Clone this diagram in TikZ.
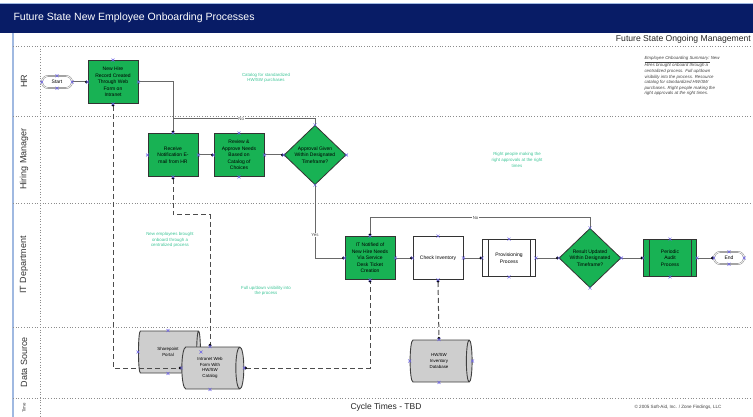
\documentclass[tikz,border=0pt]{standalone}
\usepackage{fontspec}
\setmainfont{Liberation Sans}
\usetikzlibrary{shapes.geometric,shapes.misc,arrows.meta}

\definecolor{barnavy}{RGB}{8,28,102}
\definecolor{procgreen}{RGB}{24,178,84}
\definecolor{storegray}{RGB}{206,206,206}
\definecolor{flowgray}{RGB}{105,105,105}
\definecolor{notegreen}{RGB}{60,196,150}
\definecolor{cpblue}{RGB}{110,100,230}
\definecolor{edgeblue}{RGB}{160,185,225}

\newcommand{\boxfont}{\fontsize{5}{6.6}\selectfont}
\newcommand{\notefont}{\fontsize{4.4}{5.6}\selectfont}
\newcommand{\lanefont}{\fontsize{9}{10}\selectfont}

% small connection point crosses round a shape
\newcommand{\cpmarks}[1]{%
  \foreach \a in {north,south,east,west}
    {\draw[cpmark] ([shift={(-1.5,-1.5)}]#1.\a) -- ++(3,3)
                   ([shift={(-1.5,1.5)}]#1.\a) -- ++(3,-3);}}

\tikzset{
  procbox/.style={rectangle, draw=black!80, line width=0.8pt, fill=procgreen,
    minimum width=50, minimum height=43, align=center, inner sep=1pt, font=\boxfont},
  predef/.style={procbox, minimum width=53, minimum height=37},
  decide/.style={diamond, draw=black!80, line width=0.8pt, fill=procgreen,
    minimum width=62, minimum height=46, inner sep=0.5pt, align=center, font=\boxfont},
  term/.style={rounded rectangle, draw=black!55, double=white, double distance=0.8pt,
    minimum width=32, minimum height=12, inner sep=1pt, font=\boxfont},
  store/.style={cylinder, draw=black!75, line width=0.9pt, fill=storegray, aspect=0.35,
    minimum width=42, minimum height=62, align=center, inner sep=1pt, font=\notefont},
  flow/.style={draw=flowgray, line width=1pt, -{Circle[black,length=2.6pt]}},
  flowplain/.style={draw=flowgray, line width=1pt},
  datalink/.style={draw=black!70, line width=1pt, dash pattern=on 5pt off 3pt,
    {Circle[black,length=2.6pt]}-{Circle[black,length=2.6pt]}},
  lanesep/.style={draw=black!45, line width=0.7pt, dotted},
  lanelbl/.style={rotate=90, font=\lanefont, text=black!80},
  note/.style={align=center, font=\notefont, text=notegreen},
  lbl/.style={fill=white, inner sep=0.6pt, font=\notefont, text=black!70},
  cpmark/.style={draw=cpblue, line width=0.5pt}
}

\begin{document}
\begin{tikzpicture}[x=1pt,y=-1pt]
  \useasboundingbox (0,0) rectangle (753,417);

  % title bar
  \fill[barnavy] (0,4) rectangle (753,33);
  \draw[edgeblue, line width=1pt] (0,4) -- (753,4);
  \node[anchor=west, text=white, font=\fontsize{10.5}{12}\selectfont] (title) at (10,18)
    {Future State New Employee Onboarding Processes};
  \node[anchor=east, inner sep=1pt, text=black!85, font=\fontsize{8.6}{10}\selectfont] (subtitle) at (752,39)
    {Future State Ongoing Management};

  % lanes
  \draw[edgeblue, line width=1.5pt] (13,33) -- (13,417);
  \foreach \y in {46,116,203,327,398}
    \draw[lanesep] (13,\y) -- (753,\y);
  \draw[lanesep] (40,46) -- (40,417);
  \node[lanelbl] (hrlane) at (24,81) {HR};
  \node[lanelbl] (hmlane) at (24,159) {Hiring Manager};
  \node[lanelbl] (itlane) at (24,265) {IT Department};
  \node[lanelbl] (dslane) at (24,362) {Data Source};
  \node[lanelbl, font=\notefont] (timelane) at (24,408) {Time};

  % process shapes
  \node[term] (start) at (57,82) {Start};
  \node[procbox] (hrform) at (113,82) {New Hire\\Record Created\\Through Web\\Form on\\Intranet};
  \node[procbox] (notify) at (173,155) {Receive\\Notification E-\\mail from HR};
  \node[procbox] (review) at (239,155) {Review \&\\Approve Needs\\Based on\\Catalog of\\Choices};
  \node[decide] (approve) at (315,155) {Approval Given\\Within Designated\\Timeframe?};
  \node[procbox] (ticket) at (370,258) {IT Notified of\\New Hire Needs\\Via Service\\Desk Ticket\\Creation};
  \node[procbox, fill=white] (check) at (438,258) {Check Inventory};
  \node[predef, fill=white] (provision) at (509,258) {Provisioning\\Process};
  \node[decide] (result) at (590,258) {Result Updated\\Within Designated\\Timeframe?};
  \node[predef] (audit) at (670,258) {Periodic\\Audit\\Process};
  \node[term] (end) at (729,258) {End};
  \foreach \n in {provision,audit}
    \draw[black!80, line width=0.8pt] ([xshift=6]\n.north west) -- ([xshift=6]\n.south west)
      ([xshift=-6]\n.north east) -- ([xshift=-6]\n.south east);

  % data sources
  \node[store] (portal) at (168,352) {Sharepoint\\Portal};
  \node[store] (webform) at (210,368) {Intranet Web\\Form With\\HW/SW\\Catalog};
  \node[store] (invdb) at (439,361) {HW/SW\\Inventory\\Database};

  % process flow
  \draw[flow] (start.east) -- (hrform.west);
  \draw[flow] (hrform.east) -| (notify.north);
  \draw[flow] (notify) -- (review);
  \draw[flow] (review) -- (approve);
  \coordinate (nojoin) at (173,119);
  \draw[flowplain] (approve.north) |- (nojoin) node[lbl, pos=0.76] {No};
  \draw[flow] (approve.south) |- (ticket.west) node[lbl, pos=0.34] {Yes};
  \draw[flow] (ticket) -- (check);
  \draw[flow] (check) -- (provision);
  \draw[flow] (provision) -- (result);
  \draw[flow] (result) -- (audit);
  \draw[flow] (audit) -- (end);
  \draw[flow] (result.north) -- ++(0,-10) -| (ticket.north) node[lbl, pos=0.26] {No};

  % data links
  \draw[datalink] (hrform.south) |- (webform.west);
  \draw[datalink] (notify.south) -- ++(0,38) -| (webform.north);
  \draw[datalink] (webform.east) -| (ticket.south);
  \draw[datalink] (check.south) -- (invdb.north);

  % connection points
  \foreach \n in {start,hrform,notify,review,approve,ticket,check,provision,result,audit,end,portal,webform,invdb}
    {\cpmarks{\n}}

  % notes
  \node[note] (catnote) at (266,78) {Catalog for standardized\\HW/SW purchases};
  \node[note] (rightnote) at (517,160) {Right people making the\\right approvals at the right\\times};
  \node[note] (centralnote) at (170,240) {New employees brought\\onboard through a\\centralized process};
  \node[note] (visnote) at (266,291) {Full up/down visibility into\\the process};
  \node[anchor=north west, align=left, font=\notefont\itshape, text=black!75] (summary) at (641,53)
    {\underline{Employee Onboarding Summary:} New\\Hires brought onboard through a\\centralized process. Full up/down\\visibility into the process. Resource\\catalog for standardized HW/SW\\purchases. Right people making the\\right approvals at the right times.};

  % footer
  \node[font=\fontsize{8.5}{10}\selectfont, text=black!85] (cycle) at (386,407) {Cycle Times - TBD};
  \node[font=\fontsize{4.6}{5.5}\selectfont, text=black!75] (copy) at (678,407)
    {\textcopyright{} 2005 Soft-Aid, Inc. / Zone Findings, LLC};
\end{tikzpicture}
\end{document}
